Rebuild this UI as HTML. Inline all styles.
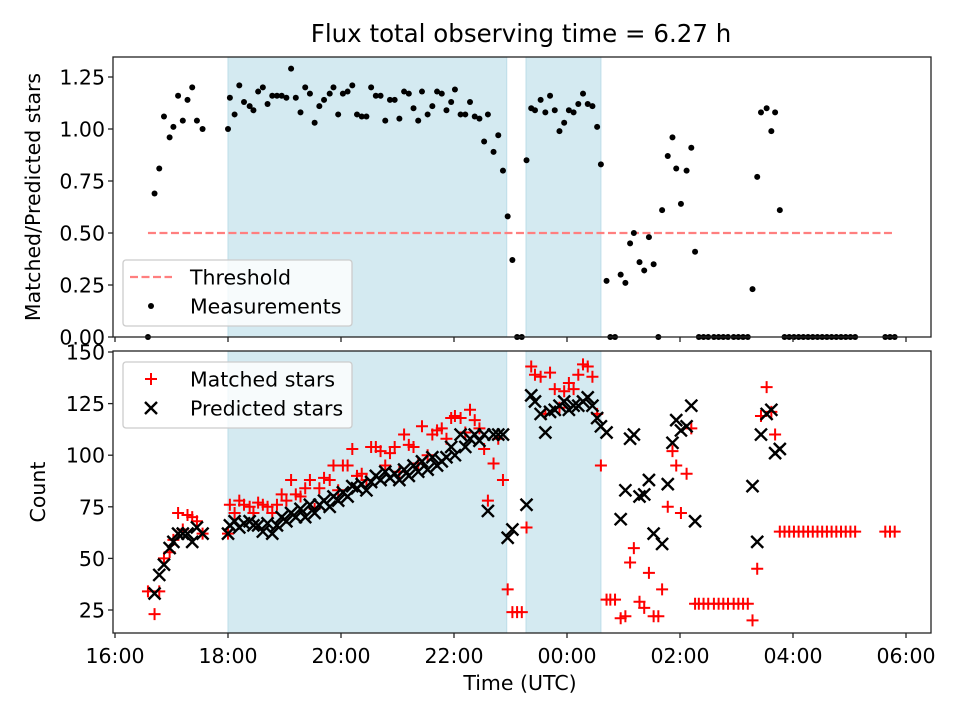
<!DOCTYPE html>
<html><head><meta charset="utf-8"><style>
body{margin:0;background:#fff}
svg{display:block;font-family:"DejaVu Sans","Liberation Sans",sans-serif}
</style></head><body>
<svg id="chart" width="960" height="720" viewBox="0 0 960 720"></svg>
<script>
const times=[35,42,47,52,58,62,67,72,77,82,87,93,120,122,127,132,137,143,147,152,157,162,167,172,177,182,187,192,197,202,207,212,217,222,228,232,237,242,247,252,257,262,267,272,277,282,287,292,297,302,307,312,317,322,326,332,337,342,347,352,357,361,367,372,377,382,387,392,396,402,407,412,417,422,427,432,437,442,446,452,457,462,467,472,477,482,487,492,497,502,507,512,516,522,526,531,537,542,547,551,557,562,567,572,577,581,587,592,596,601,607,612,616,620,625,630,636,641,646,651,657,662,667,672,677,682,686,692,697,701,706,711,716,721,726,731,736,741,746,751,756,761,766,771,776,781,786,818,823,828];
const ratio=[0,.69,.81,1.06,.96,1.01,1.16,1.04,1.14,1.20,1.04,1.00,1.00,1.15,1.07,1.21,1.13,1.11,1.09,1.18,1.20,1.12,1.16,1.16,1.16,1.15,1.29,1.15,1.08,1.20,1.17,1.03,1.11,1.14,1.17,1.20,1.07,1.17,1.18,1.21,1.07,1.06,1.06,1.20,1.16,1.16,1.04,1.14,1.14,1.05,1.18,1.17,1.10,1.04,1.18,1.07,1.11,1.18,1.17,1.09,1.13,1.19,1.07,1.07,1.13,1.06,1.05,.94,1.07,.89,.97,.80,.58,.37,0,0,.85,1.10,1.09,1.14,1.08,1.16,1.09,.99,1.03,1.09,1.08,1.12,1.17,1.12,1.11,1.01,.83,.27,0,0,.30,.26,.45,.50,.36,.32,.48,.35,0,.61,.87,.96,.81,.64,.80,.91,.41,0,0,0,0,0,0,0,0,0,0,0,.23,.77,1.08,1.10,.99,1.08,.61,0,0,0,0,0,0,0,0,0,0,0,0,0,0,0,0,0,0,0];
const matched=[34,23,34,50,53,59,72,64,71,70,68,62,62,76,72,78,76,75,72,77,76,75,72,76,81,78,88,81,80,84,88,74,84,89,88,95,83,95,95,103,90,91,88,104,104,102,95,101,104,92,110,105,104,96,114,100,110,112,113,108,118,119,118,111,122,117,113,103,78,96,108,88,35,24,24,24,65,143,139,138,120,140,132,123,131,135,132,139,144,143,138,120,95,30,30,30,21,22,48,55,29,26,43,22,22,35,75,102,95,72,91,113,28,28,28,28,28,28,28,28,28,28,28,28,20,45,119,133,121,110,63,63,63,63,63,63,63,63,63,63,63,63,63,63,63,63,63,63,63,63];
const predicted=[null,33,42,47,55,58,62,62,62,58,65,62,62,66,68,65,67,68,66,66,63,67,62,66,70,68,72,70,74,70,76,72,76,78,75,80,78,82,80,85,84,86,83,87,90,88,92,89,91,88,93,90,95,92,97,93,99,95,97,99,104,100,110,104,108,110,107,110,73,110,110,110,60,64,null,null,76,129,126,120,111,121,122,124,126,122,124,124,126,128,124,118,114,111,null,null,69,83,108,110,80,81,88,62,null,57,86,106,117,112,114,124,68,null,null,null,null,null,null,null,null,null,null,null,85,58,110,120,122,101,103,null,null,null,null,null,null,null,null,null,null,null,null,null,null,null,null,null,null,null];
const shadedSpans=[[120,416],[436.5,516]];
const thresholdSpan=[35,828];
const xTickLabels=["16:00","18:00","20:00","22:00","00:00","02:00","04:00","06:00"];
const topTicks=[0,0.25,0.5,0.75,1.0,1.25];
const botTicks=[25,50,75,100,125,150];

const NS="http://www.w3.org/2000/svg";
const svg=document.getElementById('chart');
function mk(tag,attrs,parent){const e=document.createElementNS(NS,tag);for(const k in attrs)e.setAttribute(k,attrs[k]);(parent||svg).appendChild(e);return e;}
const L=113,R=931,T1=57,B1=337,T2=351,B2=633;
const FS=20.5;
const x=m=>115+m*56.5/60;
const yTop=v=>337-v*208;
const yBot=v=>352+(150-v)*2.064;

let t=mk('text',{x:521,y:42,'text-anchor':'middle','font-size':'24.5'});t.textContent='Flux total observing time = 6.27 h';


function panel(top,bot,name){
  const g=mk('g',{});
  
  shadedSpans.forEach(s=>{const r=mk('rect',{x:x(s[0]),y:top,width:x(s[1])-x(s[0]),height:bot-top,fill:'#d4eaf1',stroke:'#bcdde8','stroke-width':1},g);
    });
  return g;
}
const gTop=panel(T1,B1,'ratio-panel');
const gBot=panel(T2,B2,'count-panel');

let th=mk('line',{x1:x(thresholdSpan[0]),x2:x(thresholdSpan[1]),y1:yTop(0.5),y2:yTop(0.5),stroke:'#ff7f7f','stroke-width':2.2,'stroke-dasharray':'8,3.5'},gTop);

times.forEach((m,i)=>{const c=mk('circle',{cx:x(m),cy:yTop(ratio[i]),r:3,fill:'#000'},gTop);
  });
times.forEach((m,i)=>{if(matched[i]==null)return;const cx=x(m),cy=yBot(matched[i]);
  const p=mk('path',{d:`M${cx-6},${cy}H${cx+6}M${cx},${cy-6}V${cy+6}`,stroke:'#f00','stroke-width':2,fill:'none'},gBot);
  });
times.forEach((m,i)=>{if(predicted[i]==null)return;const cx=x(m),cy=yBot(predicted[i]);
  const p=mk('path',{d:`M${cx-6},${cy-6}L${cx+6},${cy+6}M${cx-6},${cy+6}L${cx+6},${cy-6}`,stroke:'#000','stroke-width':2.4,fill:'none'},gBot);
  });

[[T1,B1,'ratio-frame'],[T2,B2,'count-frame']].forEach(f=>{const r=mk('rect',{x:L,y:f[0],width:R-L,height:f[1]-f[0],fill:'none',stroke:'#222','stroke-width':1.3});
  });
xTickLabels.forEach((lab,i)=>{const px=x(i*120);
  mk('line',{x1:px,x2:px,y1:B1,y2:B1+5,stroke:'#222','stroke-width':1.3});
  mk('line',{x1:px,x2:px,y1:B2,y2:B2+5,stroke:'#222','stroke-width':1.3});
  const tx=mk('text',{x:px,y:663,'text-anchor':'middle','font-size':FS});tx.textContent=lab;
  });
topTicks.forEach(v=>{const py=yTop(v);mk('line',{x1:L-5,x2:L,y1:py,y2:py,stroke:'#222','stroke-width':1.3});
  const tx=mk('text',{x:L-8,y:py+7.5,'text-anchor':'end','font-size':FS});tx.textContent=v.toFixed(2);
  });
botTicks.forEach(v=>{const py=yBot(v);mk('line',{x1:L-5,x2:L,y1:py,y2:py,stroke:'#222','stroke-width':1.3});
  const tx=mk('text',{x:L-8,y:py+7.5,'text-anchor':'end','font-size':FS});tx.textContent=v;
  });

let a=mk('text',{x:520,y:690,'text-anchor':'middle','font-size':FS});a.textContent='Time (UTC)';

a=mk('text',{x:40,y:197,'text-anchor':'middle','font-size':FS,transform:'rotate(-90 40 197)'});a.textContent='Matched/Predicted stars';

a=mk('text',{x:45,y:492,'text-anchor':'middle','font-size':FS,transform:'rotate(-90 45 492)'});a.textContent='Count';


function legend(y0,name,items){const g=mk('g',{});
  mk('rect',{x:123,y:y0,width:229,height:66,rx:3,fill:'rgba(255,255,255,0.8)',stroke:'#ccc','stroke-width':1.3},g);
  items.forEach((it,i)=>{const cy=y0+17+i*29;it.draw(g,151,cy);
    const tx=mk('text',{x:190,y:cy+7.5,'font-size':FS},g);tx.textContent=it.label;
    });}
legend(260,'ratio-legend',[
 {label:'Threshold',draw:(g,cx,cy)=>mk('line',{x1:cx-21,x2:cx+21,y1:cy,y2:cy,stroke:'#ff7f7f','stroke-width':2.2,'stroke-dasharray':'8,3.5'},g)},
 {label:'Measurements',draw:(g,cx,cy)=>mk('circle',{cx:cx,cy:cy,r:3,fill:'#000'},g)}]);
legend(362,'count-legend',[
 {label:'Matched stars',draw:(g,cx,cy)=>mk('path',{d:`M${cx-6},${cy}H${cx+6}M${cx},${cy-6}V${cy+6}`,stroke:'#f00','stroke-width':2},g)},
 {label:'Predicted stars',draw:(g,cx,cy)=>mk('path',{d:`M${cx-6},${cy-6}L${cx+6},${cy+6}M${cx-6},${cy+6}L${cx+6},${cy-6}`,stroke:'#000','stroke-width':2.4},g)}]);
</script>
</body></html>
